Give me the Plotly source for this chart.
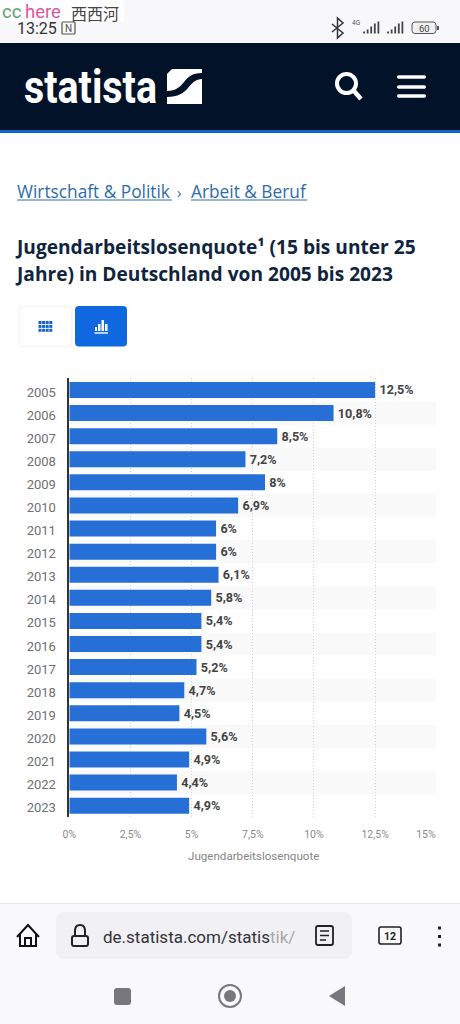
import re
import plotly.graph_objects as go

years = ["2005","2006","2007","2008","2009","2010","2011","2012","2013","2014","2015","2016","2017","2018","2019","2020","2021","2022","2023"]
values = [12.5,10.8,8.5,7.2,8,6.9,6,6,6.1,5.8,5.4,5.4,5.2,4.7,4.5,5.6,4.9,4.4,4.9]
tick_values = [0,2.5,5,7.5,10,12.5,15]
tick_labels = ["0%","2,5%","5%","7,5%","10%","12,5%","15%"+"\u00a0"*8]
axis_title = "Jugendarbeitslosenquote"

W, H = 460, 1024
fx = lambda x: x / W
fy = lambda y: 1 - y / H
shapes, notes = [], []

def rect(x0, y0, x1, y1, color, line=None, lw=0):
    shapes.append(dict(type="rect", xref="paper", yref="paper", x0=fx(x0), x1=fx(x1), y0=fy(y0), y1=fy(y1),
                       fillcolor=color, line=dict(color=line or color, width=lw), layer="above"))

def circle(x0, y0, x1, y1, fill=None, line=None, lw=0):
    shapes.append(dict(type="circle", xref="paper", yref="paper", x0=fx(x0), x1=fx(x1), y0=fy(y0), y1=fy(y1),
                       fillcolor=fill or "rgba(0,0,0,0)", line=dict(color=line or "rgba(0,0,0,0)", width=lw), layer="above"))

def hline(x0, x1, y, color, lw=1):
    shapes.append(dict(type="line", xref="paper", yref="paper", x0=fx(x0), x1=fx(x1), y0=fy(y), y1=fy(y),
                       line=dict(color=color, width=lw), layer="above"))

def path(d, fill=None, line=None, lw=0):
    toks = re.findall(r"[A-Za-z]|-?\d+\.?\d*", d)
    res, num, i = "", False, 0
    for t in toks:
        if t.isalpha():
            res += t; num = False
        else:
            v = float(t)
            res += ("," if num else "") + f"{fx(v) if i % 2 == 0 else fy(v):.5f}"
            num = True; i += 1
    shapes.append(dict(type="path", xref="paper", yref="paper", path=res,
                       fillcolor=fill or "rgba(0,0,0,0)", line=dict(color=line or "rgba(0,0,0,0)", width=lw), layer="above"))

def rrect(x0, y0, x1, y1, r, fill=None, line=None, lw=0):
    path(f"M{x0+r},{y0} L{x1-r},{y0} Q{x1},{y0} {x1},{y0+r} L{x1},{y1-r} Q{x1},{y1} {x1-r},{y1} "
         f"L{x0+r},{y1} Q{x0},{y1} {x0},{y1-r} L{x0},{y0+r} Q{x0},{y0} {x0+r},{y0} Z", fill, line, lw)

def text(x, y, s, size, color, family="Open Sans", anchor="left"):
    shift = 1.5 if anchor == "left" else 0
    notes.append(dict(xref="paper", yref="paper", x=fx(x - shift), y=fy(y), text=s, showarrow=False, xanchor=anchor,
                      yanchor="middle", align=anchor, borderpad=0,
                      font=dict(size=size, color=color, family=family)))

# status bar
rect(0, 0, 460, 43, "#f8f8fa")
rect(0, 0, 124, 21, "#ffffff")
text(2.5, 12, "cc", 18.5, "#5aa469", "Roboto")
text(25, 12, "here", 18.5, "#d9589c", "Roboto")
text(71, 12.5, "西西河", 16, "#444444", "Noto Sans CJK SC")
text(17, 28, "13:25", 16, "#333333", "Roboto")
rrect(62, 22, 75, 34, 1, None, "#555555", 1.2)
text(68.5, 28, "N", 10, "#555555", "Roboto", "center")
path("M332,24 L343,33 L337.5,38 L337.5,18 L343,23 L332,32", None, "#333333", 1.5)
text(352, 23, "4G", 6.5, "#555555", "Roboto")
for xs in (364, 388):
    for k, h in enumerate((2, 4, 7, 10, 12)):
        rect(xs + k * 3.6 - 0.9, 33.5 - h, xs + k * 3.6 + 0.9, 33.5, "#444444")
rrect(412, 22, 436, 33.5, 3, "#f0f0f0", "#555555", 1)
text(424, 28, "60", 9.5, "#444444", "Roboto", "center")
rect(437, 26, 439, 30, "#555555")

# header
rect(0, 43, 460, 130, "#021228")
rect(0, 130, 460, 133, "#0f62c8")
text(24, 87, "<b>statista</b>", 46, "#ffffff", "Roboto")
path("M172,69 L202,69 L202,73 C192,73 188,77 184,82 C180,87 176,91 167,91 L167,74 Z", "#ffffff")
path("M202,79 L202,104 L167,104 L167,97 C178,97 184,93 188,88 C192,83 196,79 202,79 Z", "#ffffff")
circle(337, 74, 356, 93, None, "#ffffff", 4)
path("M354,91 L361,99", None, "#ffffff", 4.5)
for y in (77, 87, 96):
    rrect(397, y - 1.7, 426, y + 1.7, 1.7, "#ffffff")

# breadcrumb + title
crumb = "#2d6cab"
text(17, 191.5, "Wirtschaft &amp; Politik", 17.3, crumb)
text(177, 192, "›", 15, crumb)
text(191, 191.5, "Arbeit &amp; Beruf", 17.3, crumb)
hline(17, 172, 200, crumb, 1)
hline(191, 307, 200, crumb, 1)
text(15.5, 246.5, "<b>Jugendarbeitslosenquote¹ (15 bis unter 25</b>", 19.15, "#10243e")
text(15.5, 273.5, "<b>Jahre) in Deutschland von 2005 bis 2023</b>", 19.15, "#10243e")

# toggle buttons
rrect(19.5, 306.5, 72, 346.5, 3, "#ffffff", "#f4f4f6", 1.5)
for r in range(3):
    for c in range(4):
        rect(38.5 + c * 3.6, 321 + r * 3.9, 41.5 + c * 3.6, 324 + r * 3.9, "#1565c8")
rrect(75, 306, 127, 346.5, 4, "#0f68e0")
rect(95, 327, 97, 331, "#ffffff"); rect(98, 324, 100.5, 331, "#ffffff"); rect(101.5, 320, 104, 331, "#ffffff")
rect(105, 324, 107.5, 331, "#ffffff")
hline(94.5, 108, 333, "#ffffff", 1.4)

# browser bar
rect(0, 903, 460, 1024, "#f9f9fc")
hline(0, 460, 903.5, "#e6e6ea", 1)
rrect(56, 912, 352, 959, 9, "#f0f0f5")
path("M17,937 L28,925 L39,937 M20,934 L20,946 L36,946 L36,934 M25,946 L25,938 L31,938 L31,946", None, "#111111", 2)
rrect(72, 936, 88, 946, 2, None, "#222222", 2)
path("M75,936 L75,931 Q75,925 80,925 Q85,925 85,931 L85,936", None, "#222222", 2)
text(103, 936.5, "de.statista.com/statis<span style='color:#a8a8ae'>tik/</span>", 17, "#333338", "Roboto")
rrect(316, 926, 333, 945, 2, None, "#222222", 1.8)
hline(320, 329, 931, "#222222", 1.5); hline(320, 329, 935.5, "#222222", 1.5); hline(320, 326, 940, "#222222", 1.5)
rrect(379, 927, 401, 944, 2, None, "#222222", 1.6)
text(390, 936, "<b>12</b>", 10.5, "#222222", "Roboto", "center")
for y in (928, 936.5, 945):
    rect(438, y - 1.5, 441, y + 1.5, "#222222")
rrect(114, 988, 131, 1005, 3, "#77777d")
circle(219, 985, 241, 1007, None, "#77777d", 2)
circle(224, 990, 236, 1002, "#77777d")
path("M329,996 L345,986 L345,1006 Z", "#77777d")

# alternating rows, data coordinates
for i in range(1, len(years), 2):
    shapes.append(dict(type="rect", xref="x", yref="y", x0=0, x1=15, y0=i - 0.5, y1=i + 0.5,
                       fillcolor="#f9f9f9", line=dict(width=0), layer="below"))

text(253.5, 855.5, axis_title, 11.6, "#858585", "Roboto", "center")

fig = go.Figure(go.Bar(
    x=values, y=years, orientation="h", width=0.693,
    marker=dict(color="#266fd6", line=dict(width=0)),
    text=[f"\u200a<b>{v:g}%</b>".replace(".", ",") for v in values],
    textposition="outside", cliponaxis=False,
    textfont=dict(size=12.6, color="#444444", family="Roboto"),
    hoverinfo="skip",
))
fig.update_layout(
    width=W, height=H, margin=dict(l=0, r=0, t=0, b=0), paper_bgcolor="#ffffff", plot_bgcolor="rgba(0,0,0,0)",
    showlegend=False, shapes=shapes, annotations=notes, bargap=0.3,
    xaxis=dict(domain=[69.3 / W, 436.3 / W], range=[0, 15], tickvals=tick_values, ticktext=tick_labels,
               automargin=False,
               showgrid=True, griddash="1px,2px", gridcolor="#d2d2d2", gridwidth=1, zeroline=False,
               tickfont=dict(size=10.5, color="#8a8a8a", family="Roboto"),
               ticks="outside", ticklen=7, tickcolor="rgba(0,0,0,0)", anchor="y"),
    yaxis=dict(domain=[1 - 817.2 / H, 1 - 378.45 / H], type="category", range=[18.5, -0.5],
               automargin=False,
               showgrid=False, zeroline=False, showline=True, linecolor="#333333", linewidth=1.5,
               tickfont=dict(size=13, color="#707070", family="Roboto"),
               ticklabelshift=-2,
               ticks="outside", ticklen=9, tickcolor="rgba(0,0,0,0)"),
)
squeeze = """
document.body.style.margin='0';document.documentElement.style.overflow='hidden';
document.querySelectorAll('.annotation-text').forEach(function(t){
  if(t.textContent==='statista'){t.setAttribute('textLength','133');t.setAttribute('lengthAdjust','spacingAndGlyphs');}
});
"""
fig.write_html("out.html", config=dict(displayModeBar=False), post_script=squeeze)
